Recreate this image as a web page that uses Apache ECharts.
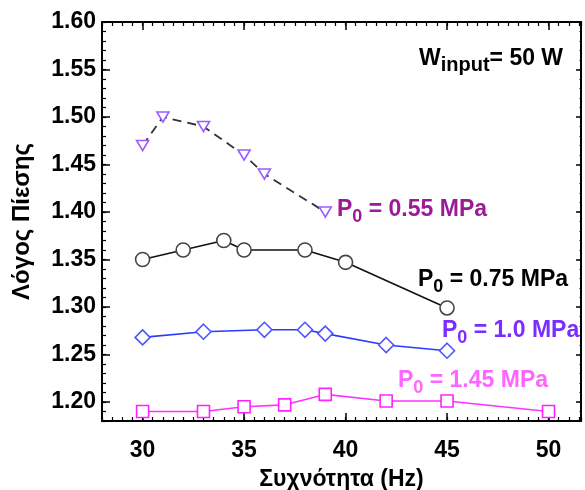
<!DOCTYPE html>
<html>
<head>
<meta charset="utf-8">
<script src="https://cdn.jsdelivr.net/npm/echarts@6/dist/echarts.min.js"></script>
<style>
  html, body { margin: 0; padding: 0; background: #fff; }
  #chart { width: 585px; height: 490px; }
</style>
</head>
<body>
<div id="chart"></div>
<script>
// Pressure ratio vs. frequency at 50 W input, four charge pressures
const freq055 = [30, 31, 33, 35, 36, 39];
const ratio055 = [1.47, 1.50, 1.49, 1.46, 1.44, 1.40];

const freq075 = [30, 32, 34, 35, 38, 40, 45];
const ratio075 = [1.35, 1.36, 1.37, 1.36, 1.36, 1.347, 1.299];

const freq100 = [30, 33, 36, 38, 39, 42, 45];
const ratio100 = [1.268, 1.274, 1.276, 1.276, 1.272, 1.26, 1.254];

const freq145 = [30, 33, 35, 37, 39, 42, 45, 50];
const ratio145 = [1.19, 1.19, 1.195, 1.197, 1.208, 1.201, 1.201, 1.19];

const xTicks = [30, 35, 40, 45, 50];
const yTicks = [1.20, 1.25, 1.30, 1.35, 1.40, 1.45, 1.50, 1.55, 1.60];

const FONT = "'Liberation Sans', Arial, sans-serif";

function pairs(xs, ys) { return xs.map((x, i) => [x, ys[i]]); }

const X_MIN = 28, X_MAX = 51.6, Y_MIN = 1.18, Y_MAX = 1.60;

function majorX(pos, withLine, withLabels) {
  return {
    type: 'value', position: pos, min: X_MIN, max: X_MAX,
    splitLine: { show: false },
    axisLine: { show: withLine, onZero: false, lineStyle: { color: '#000', width: 2 } },
    axisTick: { show: true, inside: true, length: 8, customValues: xTicks, lineStyle: { color: '#000', width: 1.5 } },
    axisLabel: withLabels ? {
      show: true, customValues: xTicks, margin: 18,
      fontFamily: FONT, fontSize: 23, fontWeight: 'bold', color: '#000'
    } : { show: false }
  };
}
function minorX(pos) {
  return {
    type: 'value', position: pos, min: X_MIN, max: X_MAX, interval: 0.5,
    splitLine: { show: false },
    axisLine: { show: false },
    axisTick: { show: true, inside: true, length: 4, lineStyle: { color: '#000', width: 1.2 } },
    axisLabel: { show: false }
  };
}
function majorY(pos, withLine, withLabels, len) {
  return {
    type: 'value', position: pos, min: Y_MIN, max: Y_MAX,
    splitLine: { show: false },
    axisLine: { show: withLine, onZero: false, lineStyle: { color: '#000', width: 2 } },
    axisTick: { show: true, inside: true, length: len, customValues: yTicks, lineStyle: { color: '#000', width: 1.5 } },
    axisLabel: withLabels ? {
      show: true, customValues: yTicks, margin: 6,
      formatter: v => v.toFixed(2),
      fontFamily: FONT, fontSize: 23, fontWeight: 'bold', color: '#000'
    } : { show: false }
  };
}
function minorY(pos, len) {
  return {
    type: 'value', position: pos, min: Y_MIN, max: Y_MAX, interval: 0.01,
    splitLine: { show: false },
    axisLine: { show: false },
    axisTick: { show: true, inside: true, length: len, lineStyle: { color: '#000', width: 1.2 } },
    axisLabel: { show: false }
  };
}

const xBottom = majorX('bottom', true, true);
xBottom.name = 'Συχνότητα (Hz)';
xBottom.nameLocation = 'middle';
xBottom.nameGap = 47;
xBottom.nameTextStyle = { fontFamily: FONT, fontSize: 23, fontWeight: 'bold', color: '#000' };

const yLeft = majorY('left', true, true, 8);
yLeft.name = 'Λόγος Πίεσης';
yLeft.nameLocation = 'middle';
yLeft.nameGap = 68;
yLeft.nameTextStyle = { fontFamily: FONT, fontSize: 24, fontWeight: 'bold', color: '#000' };

function lineSeries(data, symbol, size, stroke, lineColor, extra) {
  return Object.assign({
    type: 'line', data: data, xAxisIndex: 0, yAxisIndex: 0,
    symbol: symbol, symbolSize: size, showAllSymbol: true,
    itemStyle: { color: '#fff', borderColor: stroke, borderWidth: 1.6 },
    lineStyle: { color: lineColor, width: 1.6 },
    emphasis: { disabled: true },
    z: 3
  }, extra || {});
}

const richMain = { fontFamily: FONT, fontSize: 23, fontWeight: 'bold' };
const richSub = { fontFamily: FONT, fontSize: 18, fontWeight: 'bold', padding: [16, 0, 0, 0] };

function pLabel(x, y, value, color) {
  return {
    type: 'text', left: x, top: y, z: 10,
    style: {
      text: '{m|P}{s|0}{m| = ' + value + '}',
      fill: color,
      rich: { m: richMain, s: richSub }
    }
  };
}

const option = {
  animation: false,
  backgroundColor: '#fff',
  grid: { left: 102, top: 22, width: 479, height: 399, outerBoundsMode: 'none', containLabel: false },
  xAxis: [xBottom, minorX('bottom'), majorX('top', true, false), minorX('top')],
  yAxis: [yLeft, minorY('left', 4), majorY('right', true, false, 5), minorY('right', 1.5)],
  series: [
    lineSeries(pairs(freq055, ratio055), 'triangle', [12, 10], '#9b5cff', '#333',
      { symbolRotate: 180, lineStyle: { color: '#333', width: 1.8, type: [9, 6] } }),
    lineSeries(pairs(freq075, ratio075), 'circle', 14, '#444', '#111'),
    lineSeries(pairs(freq100, ratio100), 'diamond', [15, 15], '#4d55ff', '#2a3cff'),
    lineSeries(pairs(freq145, ratio145), 'rect', 12, '#ff22ff', '#ff33ff')
  ],
  graphic: [
    pLabel(337, 198, '0.55 MPa', '#9a1a98'),
    pLabel(418, 268, '0.75 MPa', '#000'),
    pLabel(442, 319, '1.0 MPa', '#7b2cff'),
    pLabel(398, 369, '1.45 MPa', '#ff66ff'),
    {
      type: 'text', left: 419, top: 47, z: 10,
      style: {
        text: '{m|W}{s|input}{m|= 50 W}',
        fill: '#000',
        rich: { m: richMain, s: { fontFamily: FONT, fontSize: 20, fontWeight: 'bold', padding: [14, 0, 0, 0] } }
      }
    }
  ]
};

const chart = echarts.init(document.getElementById('chart'), null, { renderer: 'canvas' });
chart.setOption(option);
</script>
</body>
</html>
